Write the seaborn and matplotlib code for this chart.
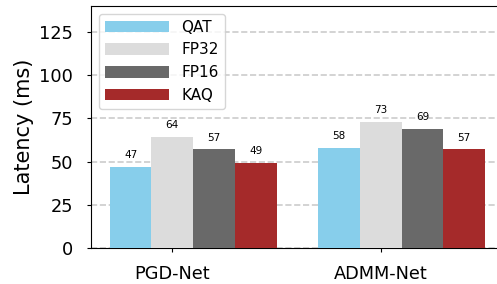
import seaborn as sns
import numpy as np
import pandas as pd
import matplotlib.pyplot as plt

models = ["PGD-Net", "ADMM-Net"]
methods = ["QAT", "FP32", "FP16", "KAQ"]
qat = [47, 58]
fp32 = [64, 73]
fp16 = [57, 69]
kaq = [49, 57]
colors = ["#87CEEB", "#DCDCDC", "#696969", "#A52A2A"]

rows = []
for m, vals in zip(methods, [qat, fp32, fp16, kaq]):
    for model, v in zip(models, vals):
        rows.append({"model": model, "method": m, "latency": v})
df = pd.DataFrame(rows)

plt.rcParams['font.family'] = ['DejaVu Sans']

fig = plt.figure(figsize=(4.97, 2.84), dpi=100)
ax = fig.add_axes([91 / 497, 36 / 284, 412.8 / 497, 242 / 284])

sns.barplot(data=df, x="model", y="latency", hue="method", palette=colors,
            saturation=1, errorbar=None, ax=ax, linewidth=0, zorder=3)

for c in ax.containers:
    ax.bar_label(c, fmt="%d", padding=5, fontsize=7.5)

ax.set_xlim(-0.49, 1.49)
ax.set_ylim(0, 140)
ax.set_yticks([0, 25, 50, 75, 100, 125])
# ticks sit under the second bar of each group
ax.set_xticks([-0.1, 0.9])
ax.set_xticklabels(models)
ax.tick_params(axis="y", labelsize=12.8, length=3, pad=10)
ax.tick_params(axis="x", labelsize=12.8, length=3, pad=9)
ax.set_xlabel("")
ax.set_ylabel("Latency (ms)", fontsize=15, labelpad=4)
ax.yaxis.grid(True, linestyle="--", color="#cccccc", linewidth=1.2, zorder=0)
ax.set_axisbelow(True)

ax.legend(loc="upper left", fontsize=11, handlelength=4.2, handleheight=0.8, title=None)

plt.savefig("out.png", dpi=100)
